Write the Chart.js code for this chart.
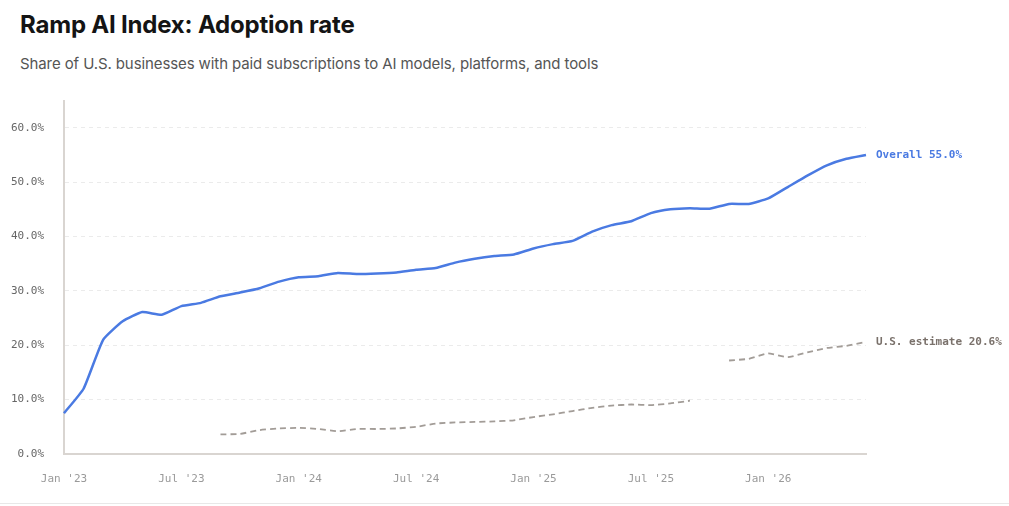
<!DOCTYPE html>
<html lang="en">
<head>
  <meta charset="UTF-8">
  <title>Ramp AI Index: Adoption rate</title>
  <script src="https://cdn.jsdelivr.net/npm/chart.js"></script>
  <style>
    body, html {
      width: 1009px;
      height: 506px;
      margin: 0;
      padding: 0;
      overflow: hidden;
      background: #fff;
      position: relative;
    }
    .title {
      position: absolute;
      left: 20px;
      top: 10px;
      font-family: Inter, "Noto Sans", sans-serif;
      font-weight: 700;
      font-size: 24px;
      letter-spacing: -0.2px;
      line-height: 30px;
      color: #141414;
    }
    .subtitle {
      position: absolute;
      left: 20px;
      top: 53px;
      font-family: Inter, "Noto Sans", sans-serif;
      font-size: 15px;
      letter-spacing: -0.1px;
      line-height: 22px;
      color: #555;
    }
    .chart-box {
      position: absolute;
      left: 0;
      top: 74px;
      width: 1009px;
      height: 432px;
    }
    .rule {
      position: absolute;
      left: 0;
      top: 503px;
      width: 1009px;
      height: 0;
      border-top: 1px solid #e8e8e8;
    }
  </style>
</head>
<body>
  <div class="title">Ramp AI Index: Adoption rate</div>
  <div class="subtitle">Share of U.S. businesses with paid subscriptions to AI models, platforms, and tools</div>
  <div class="chart-box">
    <canvas id="adoptionChart" width="1009" height="432"></canvas>
  </div>
  <div class="rule"></div>

  <script>
    // monthly, Jan '23 .. Jun '26
    const months = [
      "Jan '23", "Feb '23", "Mar '23", "Apr '23", "May '23", "Jun '23",
      "Jul '23", "Aug '23", "Sep '23", "Oct '23", "Nov '23", "Dec '23",
      "Jan '24", "Feb '24", "Mar '24", "Apr '24", "May '24", "Jun '24",
      "Jul '24", "Aug '24", "Sep '24", "Oct '24", "Nov '24", "Dec '24",
      "Jan '25", "Feb '25", "Mar '25", "Apr '25", "May '25", "Jun '25",
      "Jul '25", "Aug '25", "Sep '25", "Oct '25", "Nov '25", "Dec '25",
      "Jan '26", "Feb '26", "Mar '26", "Apr '26", "May '26", "Jun '26"
    ];

    const overall = [
      7.5, 12.0, 21.0, 24.4, 26.1, 25.6, 27.2, 27.8, 29.0, 29.7, 30.5, 31.7,
      32.5, 32.7, 33.3, 33.1, 33.2, 33.4, 33.9, 34.2, 35.2, 35.9, 36.4, 36.7,
      37.8, 38.6, 39.2, 40.9, 42.1, 42.8, 44.3, 45.0, 45.2, 45.1, 46.0, 46.0,
      47.0, 49.1, 51.2, 53.1, 54.3, 55.0
    ];

    const usEstimate = [
      null, null, null, null, null, null, null, null, 3.6, 3.7, 4.4, 4.7,
      4.8, 4.6, 4.2, 4.6, 4.6, 4.7, 5.0, 5.6, 5.8, 5.9, 6.0, 6.2,
      6.8, 7.3, 7.9, 8.5, 8.9, 9.1, 9.0, 9.3, 9.8, null, 17.2, 17.5,
      18.5, 17.8, 18.7, 19.5, 19.9, 20.6
    ];

    const seriesNames = ['Overall', 'U.S. estimate'];
    const yTicks = [0, 10, 20, 30, 40, 50, 60];

    const MONO = '"DejaVu Sans Mono", "Liberation Mono", monospace';

    // writes "Overall 55.0%" etc. next to the last point of each line
    const endLabels = {
      id: 'endLabels',
      afterDatasetsDraw(chart) {
        const ctx = chart.ctx;
        ctx.save();
        ctx.font = 'bold 11px ' + MONO;
        ctx.textBaseline = 'middle';
        ctx.textAlign = 'left';
        chart.data.datasets.forEach((ds, i) => {
          const meta = chart.getDatasetMeta(i);
          const pt = meta.data[meta.data.length - 1];
          const val = ds.data[ds.data.length - 1];
          ctx.fillStyle = ds.labelColor;
          ctx.fillText(`${ds.label} ${val.toFixed(1)}%`, pt.x + 10, pt.y);
        });
        ctx.restore();
      }
    };

    const ctx = document.getElementById('adoptionChart').getContext('2d');
    const chart = new Chart(ctx, {
      type: 'line',
      data: {
        labels: months,
        datasets: [
          {
            label: seriesNames[0],
            data: overall,
            borderColor: '#4a7ae2',
            labelColor: '#4a7ae2',
            borderWidth: 2.5,
            pointRadius: 0,
            tension: 0.15,
            clip: false
          },
          {
            label: seriesNames[1],
            data: usEstimate,
            borderColor: '#a29c97',
            labelColor: '#7a716b',
            borderWidth: 1.8,
            borderDash: [6, 4],
            pointRadius: 0,
            tension: 0.15,
            spanGaps: false,
            clip: false
          }
        ]
      },
      options: {
        responsive: false,
        animation: false,
        layout: { padding: { left: 0, right: 143, top: 9, bottom: 0 } },
        plugins: {
          legend: { display: false },
          tooltip: { enabled: false }
        },
        scales: {
          x: {
            type: 'category',
            offset: false,
            grid: { display: false, drawTicks: false },
            border: { display: true, color: '#d9d5d1', width: 2 },
            ticks: {
              autoSkip: false,
              maxRotation: 0,
              padding: 19,
              color: '#9a9a9a',
              font: { family: MONO, size: 11 },
              callback: (v, i) => (i % 6 === 0 ? months[i] : '')
            },
            afterFit: (scale) => { scale.height = 52; }
          },
          y: {
            min: 0,
            max: 65,
            grid: { color: '#ebebeb', lineWidth: 1, drawTicks: false },
            border: { display: true, color: '#d9d5d1', width: 2, dash: [4, 4] },
            ticks: {
              stepSize: 10,
              padding: 20,
              color: '#666',
              font: { family: MONO, size: 11 },
              callback: (v) => v.toFixed(1) + '%'
            },
            afterBuildTicks: (scale) => {
              scale.ticks = yTicks.map(v => ({ value: v }));
            },
            afterFit: (scale) => { scale.width = 64; }
          }
        }
      },
      plugins: [endLabels]
    });
  </script>
</body>
</html>
